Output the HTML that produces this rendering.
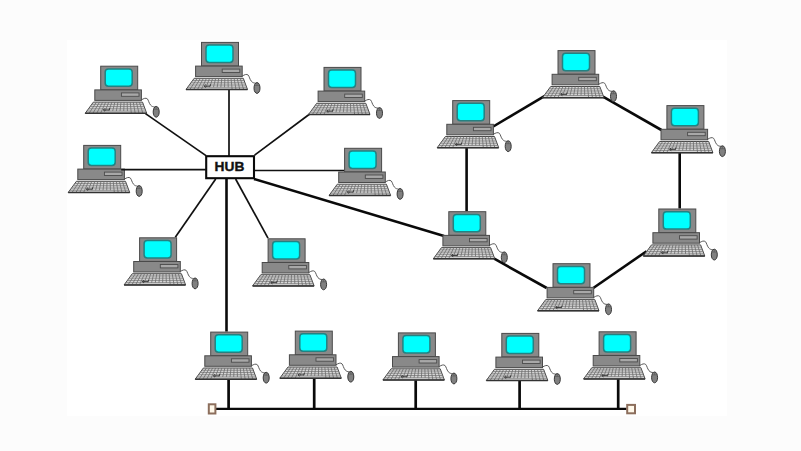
<!DOCTYPE html>
<html><head><meta charset="utf-8"><style>
html,body{margin:0;padding:0;background:#fcfcfc;}
body{width:801px;height:451px;overflow:hidden;font-family:"Liberation Sans",sans-serif;}
svg{display:block;}
</style></head><body>
<svg width="801" height="451" viewBox="0 0 801 451">
<defs>
<symbol id="pc" overflow="visible">
<path d="M41.2 34.2 C43.5 32.8 45.6 31.8 47.2 33.2 C48.4 34.6 48.6 37.2 50.4 39.4 C51.6 40.8 53 41.2 54.6 41.2" fill="none" stroke="#5a5a5a" stroke-width="1"/>
<rect x="0.5" y="0.5" width="37" height="23.6" fill="#898989" stroke="#4a4a4a" stroke-width="1"/>
<rect x="5" y="3.2" width="27" height="17.4" rx="3.2" fill="#00ffff" stroke="#238282" stroke-width="1.5"/>
<rect x="-5.4" y="24.2" width="46.6" height="10.5" fill="#898989" stroke="#4a4a4a" stroke-width="1"/>
<rect x="21.2" y="27.2" width="17.6" height="3.4" fill="#a8a8a8" stroke="#4c4c4c" stroke-width="0.9"/>
<polygon points="-6.8,36.4 42.3,36.4 46.5,47.6 -15,47.6" fill="#d6d6d6" stroke="#4a4a4a" stroke-width="1"/>
<line x1="-8.44" y1="38.64" x2="43.14" y2="38.64" stroke="#777" stroke-width="0.75"/>
<line x1="-10.08" y1="40.88" x2="43.98" y2="40.88" stroke="#777" stroke-width="0.75"/>
<line x1="-11.72" y1="43.12" x2="44.82" y2="43.12" stroke="#777" stroke-width="0.75"/>
<line x1="-13.36" y1="45.36" x2="45.66" y2="45.36" stroke="#777" stroke-width="0.75"/>
<line x1="-3.73" y1="36.4" x2="-11.16" y2="47.60" stroke="#6a6a6a" stroke-width="0.8"/>
<line x1="-0.66" y1="36.4" x2="-7.31" y2="47.60" stroke="#6a6a6a" stroke-width="0.8"/>
<line x1="2.41" y1="36.4" x2="-3.47" y2="47.60" stroke="#6a6a6a" stroke-width="0.8"/>
<line x1="5.47" y1="36.4" x2="0.38" y2="47.60" stroke="#6a6a6a" stroke-width="0.8"/>
<line x1="8.54" y1="36.4" x2="5.08" y2="45.36" stroke="#6a6a6a" stroke-width="0.8"/>
<line x1="11.61" y1="36.4" x2="8.77" y2="45.36" stroke="#6a6a6a" stroke-width="0.8"/>
<line x1="14.68" y1="36.4" x2="12.46" y2="45.36" stroke="#6a6a6a" stroke-width="0.8"/>
<line x1="17.75" y1="36.4" x2="16.15" y2="45.36" stroke="#6a6a6a" stroke-width="0.8"/>
<line x1="20.82" y1="36.4" x2="19.84" y2="45.36" stroke="#6a6a6a" stroke-width="0.8"/>
<line x1="23.89" y1="36.4" x2="23.53" y2="45.36" stroke="#6a6a6a" stroke-width="0.8"/>
<line x1="26.96" y1="36.4" x2="27.22" y2="45.36" stroke="#6a6a6a" stroke-width="0.8"/>
<line x1="30.02" y1="36.4" x2="31.12" y2="47.60" stroke="#6a6a6a" stroke-width="0.8"/>
<line x1="33.09" y1="36.4" x2="34.97" y2="47.60" stroke="#6a6a6a" stroke-width="0.8"/>
<line x1="36.16" y1="36.4" x2="38.81" y2="47.60" stroke="#6a6a6a" stroke-width="0.8"/>
<line x1="39.23" y1="36.4" x2="42.66" y2="47.60" stroke="#6a6a6a" stroke-width="0.8"/>
<path d="M3.2 44.3 L9 44.3 M4.8 42.7 L3.2 44.3 L4.8 45.6 M9 44.3 L9.6 42.4" stroke="#333" stroke-width="0.9" fill="none"/>
<line x1="-15" y1="47.6" x2="46.5" y2="47.6" stroke="#333" stroke-width="1.5"/>
<path d="M56 40.7 C57.9 40.7 59 43.3 59 46.4 C59 49.4 57.5 51.5 56 51.5 C54.5 51.5 53 49.4 53 46.4 C53 43.3 54.1 40.7 56 40.7Z" fill="#808080" stroke="#383838" stroke-width="1"/>
<path d="M53.6 43.6 L58.4 43.6 M56 40.9 L56 43.6" stroke="#555" stroke-width="0.6" fill="none"/>
</symbol>
</defs>
<rect x="0" y="0" width="801" height="451" fill="#fcfcfc"/>
<rect x="67" y="40" width="659.8" height="376.2" fill="#ffffff"/>
<line x1="229" y1="89" x2="229" y2="156" stroke="#111" stroke-width="1.7"/>
<line x1="145.5" y1="113.6" x2="206" y2="155.6" stroke="#111" stroke-width="1.7"/>
<line x1="309.4" y1="114.3" x2="254.6" y2="155.1" stroke="#111" stroke-width="1.7"/>
<line x1="255" y1="170.5" x2="344" y2="170.5" stroke="#111" stroke-width="1.7"/>
<line x1="215.7" y1="179.1" x2="175.3" y2="237.3" stroke="#111" stroke-width="1.7"/>
<line x1="235.6" y1="179" x2="268" y2="238.1" stroke="#111" stroke-width="1.7"/>
<line x1="226.5" y1="179" x2="226.5" y2="331.6" stroke="#0a0a0a" stroke-width="2.6"/>
<line x1="254" y1="179" x2="444" y2="236" stroke="#0a0a0a" stroke-width="2.6"/>
<line x1="493.3" y1="126.5" x2="544.8" y2="95.9" stroke="#0a0a0a" stroke-width="2.6"/>
<line x1="603" y1="96.7" x2="661.4" y2="130" stroke="#0a0a0a" stroke-width="2.6"/>
<line x1="679.7" y1="152" x2="679.7" y2="208.5" stroke="#0a0a0a" stroke-width="2.6"/>
<line x1="646.6" y1="251.2" x2="593.3" y2="288" stroke="#0a0a0a" stroke-width="2.6"/>
<line x1="494.2" y1="258.7" x2="546.7" y2="288" stroke="#0a0a0a" stroke-width="2.6"/>
<line x1="466.6" y1="147.5" x2="466.6" y2="211.2" stroke="#0a0a0a" stroke-width="2.6"/>
<line x1="228.6" y1="378" x2="228.6" y2="409" stroke="#0a0a0a" stroke-width="2.7"/>
<line x1="314.2" y1="378" x2="314.2" y2="409" stroke="#0a0a0a" stroke-width="2.7"/>
<line x1="415.7" y1="378" x2="415.7" y2="409" stroke="#0a0a0a" stroke-width="2.7"/>
<line x1="519.6" y1="378" x2="519.6" y2="409" stroke="#0a0a0a" stroke-width="2.7"/>
<line x1="618.2" y1="378" x2="618.2" y2="409" stroke="#0a0a0a" stroke-width="2.7"/>
<line x1="216" y1="408.9" x2="626.5" y2="408.9" stroke="#0a0a0a" stroke-width="2.3"/>
<rect x="206.2" y="156.2" width="47.8" height="22" fill="#fff" stroke="#0a0a0a" stroke-width="2.1"/>
<text transform="translate(214.6,171.1) scale(1.1,1)" x="0" y="0" font-family="Liberation Sans, sans-serif" font-weight="bold" font-size="12.5" fill="#111" stroke="#111" stroke-width="0.35">HUB</text>
<rect x="208.8" y="404.3" width="6.6" height="9.2" fill="#fff8ea" stroke="#8c6e5c" stroke-width="2"/>
<rect x="627.2" y="404.9" width="7.8" height="8.4" fill="#fff8ea" stroke="#8c6e5c" stroke-width="2"/>
<use href="#pc" x="100.2" y="65.7"/>
<use href="#pc" x="201" y="41.9"/>
<use href="#pc" x="323.5" y="66.9"/>
<use href="#pc" x="83.2" y="144.9"/>
<use href="#pc" x="344.1" y="147.8"/>
<use href="#pc" x="139.1" y="237.3"/>
<use href="#pc" x="267.6" y="238.3"/>
<use href="#pc" x="452.2" y="100.1"/>
<use href="#pc" x="557.5" y="50.1"/>
<use href="#pc" x="666.4" y="105.1"/>
<use href="#pc" x="658.3" y="208.5"/>
<use href="#pc" x="552.5" y="263.2"/>
<use href="#pc" x="448.3" y="211.2"/>
<use href="#pc" x="210.2" y="331.6"/>
<use href="#pc" x="294.8" y="330.6"/>
<use href="#pc" x="397.9" y="332.4"/>
<use href="#pc" x="501.3" y="332.9"/>
<use href="#pc" x="598.6" y="331.3"/>
<line x1="121.2" y1="169.7" x2="206" y2="169.7" stroke="#111" stroke-width="1.7"/>
</svg>
</body></html>
